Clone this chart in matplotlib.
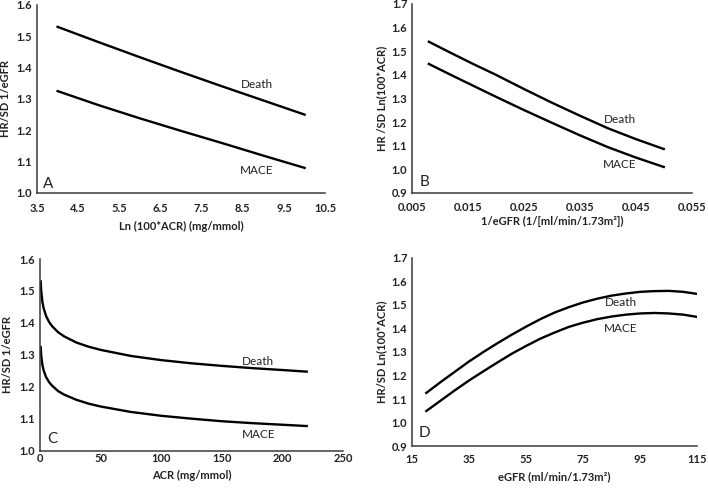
import numpy as np
import matplotlib.pyplot as plt
from matplotlib.ticker import FormatStrFormatter

plt.rcParams['font.family'] = ['Lato', 'DejaVu Sans']

# Panel A: HR per SD 1/eGFR vs Ln(100*ACR)
a_x = [4, 5, 6, 7, 8, 9, 10]
a_death = [1.530, 1.481, 1.433, 1.386, 1.340, 1.295, 1.250]
a_mace = [1.325, 1.280, 1.238, 1.198, 1.159, 1.119, 1.080]

# Panel B: HR per SD Ln(100*ACR) vs 1/eGFR
b_x = [0.008, 0.012, 0.016, 0.020, 0.025, 0.030, 0.035, 0.040, 0.045, 0.050]
b_death = [1.540, 1.492, 1.445, 1.400, 1.340, 1.282, 1.227, 1.174, 1.128, 1.086]
b_mace = [1.446, 1.399, 1.353, 1.307, 1.251, 1.197, 1.144, 1.094, 1.050, 1.010]

# Panel C: HR per SD 1/eGFR vs ACR
c_x = [0.55, 1, 2, 3, 5, 7.5, 10, 15, 20, 30, 40, 50, 75, 100, 125, 150, 175, 200, 220]
c_death = [1.530, 1.500, 1.465, 1.446, 1.422, 1.403, 1.390, 1.371, 1.358, 1.339,
           1.326, 1.316, 1.297, 1.284, 1.274, 1.266, 1.259, 1.253, 1.248]
c_mace = [1.325, 1.298, 1.269, 1.252, 1.231, 1.215, 1.204, 1.187, 1.176, 1.160,
          1.148, 1.139, 1.122, 1.110, 1.101, 1.093, 1.087, 1.082, 1.078]

# Panel D: HR per SD Ln(100*ACR) vs eGFR
d_x = [20, 25, 30, 35, 40, 45, 50, 55, 60, 65, 70, 75, 80, 85, 90, 95, 100, 105, 110, 115]
d_death = [1.126, 1.172, 1.216, 1.260, 1.300, 1.338, 1.374, 1.408, 1.440, 1.468,
           1.491, 1.511, 1.527, 1.540, 1.549, 1.556, 1.559, 1.560, 1.556, 1.547]
d_mace = [1.049, 1.093, 1.137, 1.179, 1.218, 1.256, 1.293, 1.326, 1.357, 1.383,
          1.407, 1.425, 1.440, 1.451, 1.459, 1.464, 1.466, 1.464, 1.459, 1.449]

panels = [
    dict(rect=[0.0523, 0.607, 0.407, 0.383], x=a_x, death=a_death, mace=a_mace,
         xlim=(3.5, 10.5), xticks=np.arange(3.5, 10.6, 1.0), xfmt='%.1f',
         ylim=(1.0, 1.6), yticks=np.arange(1.0, 1.61, 0.1),
         xlabel='Ln (100*ACR) (mg/mmol)', ylabel='HR/SD 1/eGFR',
         letter='A', letter_pos=(3.77, 1.03),
         death_pos=(8.83, 1.345), mace_pos=(8.83, 1.073),
         xpad=7, xlab_y=-0.149, ylab_x=-0.090),
    dict(rect=[0.582, 0.607, 0.395, 0.385], x=b_x, death=b_death, mace=b_mace,
         xlim=(0.005, 0.055), xticks=np.arange(0.005, 0.0551, 0.01), xfmt='%.3f',
         ylim=(0.9, 1.7), yticks=np.arange(0.9, 1.71, 0.1),
         xlabel='1/eGFR (1/[ml/min/1.73m²])', ylabel='HR /SD Ln(100*ACR)',
         letter='B', letter_pos=(0.0073, 0.945),
         death_pos=(0.0421, 1.212), mace_pos=(0.0421, 1.021),
         xpad=6.5, xlab_y=-0.122, ylab_x=-0.088),
    dict(rect=[0.0565, 0.0815, 0.428, 0.391], x=c_x, death=c_death, mace=c_mace,
         xlim=(0, 250), xticks=np.arange(0, 251, 50), xfmt='%d',
         ylim=(1.0, 1.6), yticks=np.arange(1.0, 1.61, 0.1),
         xlabel='ACR (mg/mmol)', ylabel='HR/SD 1/eGFR',
         letter='C', letter_pos=(10, 1.0375),
         death_pos=(180, 1.281), mace_pos=(180, 1.053),
         xpad=1.5, xlab_y=-0.099, ylab_x=-0.089),
    dict(rect=[0.582, 0.0916, 0.403, 0.383], x=d_x, death=d_death, mace=d_mace,
         xlim=(15, 115), xticks=np.arange(15, 116, 20), xfmt='%d',
         ylim=(0.9, 1.7), yticks=np.arange(0.9, 1.71, 0.1),
         xlabel='eGFR (ml/min/1.73m²)', ylabel='HR/SD Ln(100*ACR)',
         letter='D', letter_pos=(19.5, 0.955),
         death_pos=(88.2, 1.509), mace_pos=(88.2, 1.402),
         xpad=5.5, xlab_y=-0.133, ylab_x=-0.087),
]

fig = plt.figure(figsize=(7.08, 4.91), dpi=100)

for p in panels:
    ax = fig.add_axes(p['rect'])
    ax.plot(p['x'], p['death'], color='black', lw=1.7)
    ax.plot(p['x'], p['mace'], color='black', lw=1.7)

    ax.set_xlim(*p['xlim'])
    ax.set_ylim(*p['ylim'])
    ax.set_xticks(p['xticks'])
    ax.set_yticks(p['yticks'])
    ax.xaxis.set_major_formatter(FormatStrFormatter(p['xfmt']))
    ax.yaxis.set_major_formatter(FormatStrFormatter('%.1f'))

    for side in ['top', 'right']:
        ax.spines[side].set_visible(False)
    for side in ['left', 'bottom']:
        ax.spines[side].set_color('#3a3a3a')
        ax.spines[side].set_linewidth(1.1)

    ax.tick_params(axis='both', length=0, labelsize=8, colors='#222222')
    ax.tick_params(axis='x', pad=p['xpad'])
    ax.tick_params(axis='y', pad=3.4)
    for lab in ax.get_xticklabels() + ax.get_yticklabels():
        lab.set_fontweight('bold')

    ax.set_xlabel(p['xlabel'], fontsize=8, fontweight='bold', color='#222222')
    ax.set_ylabel(p['ylabel'], fontsize=8, fontweight='bold', color='#222222')
    ax.xaxis.set_label_coords(0.5, p['xlab_y'])
    ax.yaxis.set_label_coords(p['ylab_x'], 0.5)

    ax.text(*p['death_pos'], 'Death', fontsize=8.5, ha='center', va='center', color='#222222')
    ax.text(*p['mace_pos'], 'MACE', fontsize=8.5, ha='center', va='center', color='#222222')
    ax.text(*p['letter_pos'], p['letter'], fontsize=11, ha='center', va='center', color='#222222')

fig.savefig('out.png', dpi=100)
